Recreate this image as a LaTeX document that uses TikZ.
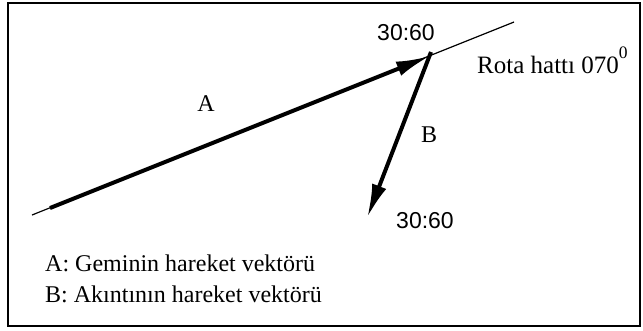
\documentclass[tikz,border=0pt]{standalone}
\usepackage{fontspec}
\setmainfont{Liberation Serif}
\newfontfamily\labsans{Liberation Sans}
\usetikzlibrary{arrows.meta}
\begin{document}
\begin{tikzpicture}[x=1pt,y=-1pt,
  frame/.style={draw=black,line width=1.6pt},
  course/.style={draw=black,line width=1.2pt},
  vec/.style={draw=black,line width=4pt,-{Latex[length=34pt,width=15pt]}},
  serifl/.style={font=\fontsize{24}{28}\selectfont,inner sep=0pt},
  sansl/.style={font=\labsans\fontsize{23}{27}\selectfont,inner sep=0pt}]
\useasboundingbox (0,0) rectangle (643,330);
\draw[frame] (8,3) rectangle (640,326);
\coordinate (lineS) at (32,215);
\coordinate (lineE) at (514,22);
\coordinate (O) at (430,56);
\coordinate (As) at (50,208);
\coordinate (Bs) at (431,52);
\coordinate (Bt) at (367,218);
\draw[course] (lineS) -- (lineE);
\draw[vec] (As) -- (O);
\draw[vec] (Bs) -- (Bt);
\node[sansl] (t1) at (406,33) {30:60};
\node[sansl] (t2) at (425,221) {30:60};
\node[serifl,font=\fontsize{25}{29}\selectfont,anchor=base west] (rota) at (477,73) {Rota hattı 070\raisebox{5pt}{\textsuperscript{0}}};
\node[serifl] (la) at (206,104) {A};
\node[serifl] (lb) at (429,135) {B};
\node[serifl,anchor=base west] (lg1) at (45,271) {A: Geminin hareket vektörü};
\node[serifl,anchor=base west] (lg2) at (45,302) {B: Akıntının hareket vektörü};
\end{tikzpicture}
\end{document}
